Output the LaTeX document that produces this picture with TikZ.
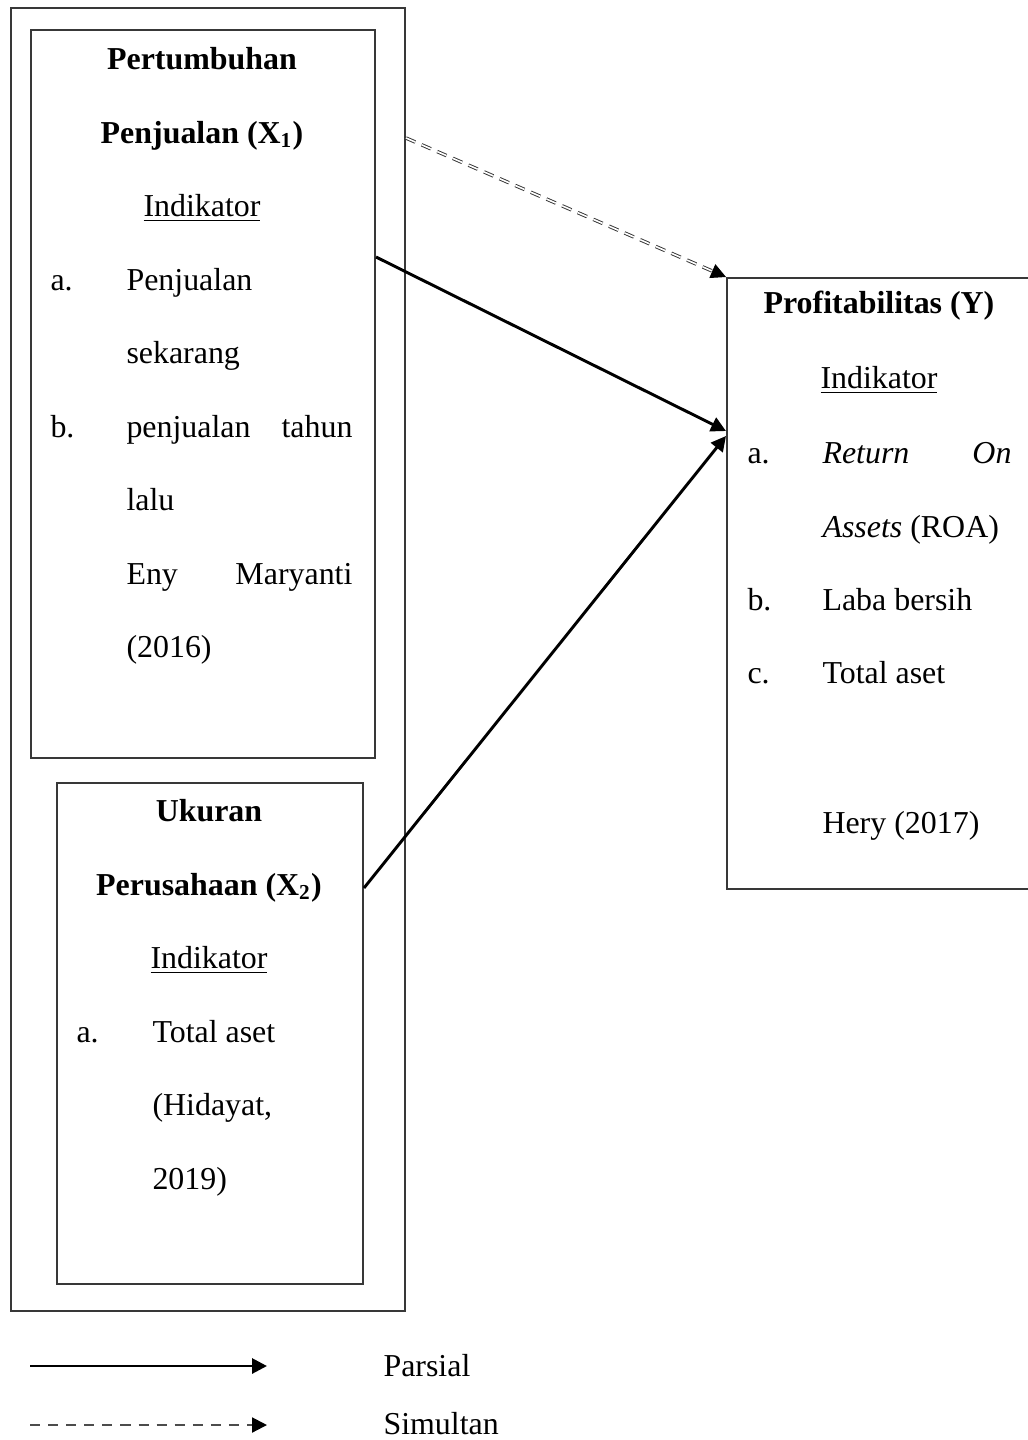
\documentclass[tikz,border=0pt]{standalone}
\usepackage{fontspec}
\setmainfont{Liberation Serif}
\usetikzlibrary{positioning,arrows.meta}

\begin{document}
\begin{tikzpicture}[
  x=0.376pt, y=-0.376pt,
  >={Triangle[length=5.6pt,width=5.6pt]},
  box/.style={draw=black!78, line width=0.75pt, rectangle, inner sep=0pt, anchor=north west},
  txt/.style={inner sep=0pt, anchor=base, font=\fontsize{12}{14}\selectfont},
  ttl/.style={txt, font=\fontsize{12}{14}\selectfont\bfseries},
  par/.style={->, line width=1.1pt},
  sim/.style={-{Triangle[length=5.6pt,width=5.6pt,color=black]}, draw=black!80, line width=0.35pt, double, double distance=0.6pt, dash pattern=on 3.8pt off 2.6pt},
  simkey/.style={-{Triangle[length=5.6pt,width=5.6pt,color=black]}, draw=black!70, line width=0.8pt, dash pattern=on 3.8pt off 3pt}
]

% -----------------------
% Layout parameters
% -----------------------
\def\pxu{0.376}

% column x-values
\def\xA{202}   % centre of X1 box
\def\xB{209}   % centre of X2 box
\def\xC{879}   % centre of Y box

\useasboundingbox (0,0) rectangle (1027,1440);

% -----------------------
% Boxes
% -----------------------
\node[box, minimum width={394*\pxu pt}, minimum height={1303*\pxu pt}] (bOut) at (10,7) {};
\node[box, minimum width={344*\pxu pt}, minimum height={728*\pxu pt}] (bX1) at (30,29) {};
\node[box, minimum width={306*\pxu pt}, minimum height={501*\pxu pt}] (bX2) at (56,782) {};
\node[box, minimum width={306*\pxu pt}, minimum height={611*\pxu pt}] (bY) at (726,277) {};

% -----------------------
% Pertumbuhan Penjualan (X1)
% -----------------------
\node[ttl] (tX1a) at (\xA,69)  {Pertumbuhan};
\node[ttl] (tX1b) at (\xA,143) {Penjualan (X\textsubscript{1})};
\node[txt] (iX1)  at (\xA,216) {\underline{Indikator}};

\node[txt, anchor=base west] (aX1)  at (50,290)  {a.};
\node[txt, anchor=base west] (aX1t) at (126,290) {Penjualan};
\node[txt, anchor=base west] (aX1u) at (126,363) {sekarang};
\node[txt, anchor=base west] (bX1l) at (50,437)  {b.};
\node[txt, anchor=base west] (bX1t) at (126,437) {penjualan};
\node[txt, anchor=base east] (bX1r) at (353,437) {tahun};
\node[txt, anchor=base west] (bX1u) at (126,510) {lalu};
\node[txt, anchor=base west] (sX1a) at (126,584) {Eny};
\node[txt, anchor=base east] (sX1b) at (353,584) {Maryanti};
\node[txt, anchor=base west] (sX1c) at (126,657) {(2016)};

% -----------------------
% Ukuran Perusahaan (X2)
% -----------------------
\node[ttl] (tX2a) at (\xB,821) {Ukuran};
\node[ttl] (tX2b) at (\xB,895) {Perusahaan (X\textsubscript{2})};
\node[txt] (iX2)  at (\xB,968) {\underline{Indikator}};

\node[txt, anchor=base west] (aX2)  at (76,1042)  {a.};
\node[txt, anchor=base west] (aX2t) at (152,1042) {Total aset};
\node[txt, anchor=base west] (sX2a) at (152,1115) {(Hidayat,};
\node[txt, anchor=base west] (sX2b) at (152,1189) {2019)};

% -----------------------
% Profitabilitas (Y)
% -----------------------
\node[ttl] (tY) at (\xC,313) {Profitabilitas (Y)};
\node[txt] (iY) at (\xC,388) {\underline{Indikator}};

\node[txt, anchor=base west] (aY)  at (747,463)  {a.};
\node[txt, anchor=base west] (aYt) at (822,463)  {\textit{Return}};
\node[txt, anchor=base east] (aYr) at (1012,463) {\textit{On}};
\node[txt, anchor=base west] (aYu) at (822,537)  {\textit{Assets} (ROA)};
\node[txt, anchor=base west] (bY1) at (747,610)  {b.};
\node[txt, anchor=base west] (bYt) at (822,610)  {Laba bersih};
\node[txt, anchor=base west] (cY)  at (747,683)  {c.};
\node[txt, anchor=base west] (cYt) at (822,683)  {Total aset};
\node[txt, anchor=base west] (sY)  at (822,833)  {Hery (2017)};

% -----------------------
% Connectors
% -----------------------
\coordinate (x1out) at (bX1.east |- 0,257);
\coordinate (x2out) at (bX2.east |- 0,888);
\coordinate (yin1)  at (bY.west |- 0,431);
\coordinate (yin2)  at (bY.west |- 0,436);
\coordinate (simout) at (bOut.east |- 0,138);

\draw[par] (x1out) -- (yin1);
\draw[par] (x2out) -- (yin2);
\draw[sim] (simout) -- (bY.north west);

% -----------------------
% Legend
% -----------------------
\node[txt, anchor=base west] (lbPar) at (383,1376) {Parsial};
\node[txt, anchor=base west] (lbSim) at (383,1434) {Simultan};

\coordinate (kParA) at (30,1366);
\coordinate (kParB) at (267,1366);
\coordinate (kSimA) at (30,1425);
\coordinate (kSimB) at (267,1425);
\draw[par] (kParA) -- (kParB);
\draw[simkey] (kSimA) -- (kSimB);

\end{tikzpicture}
\end{document}
